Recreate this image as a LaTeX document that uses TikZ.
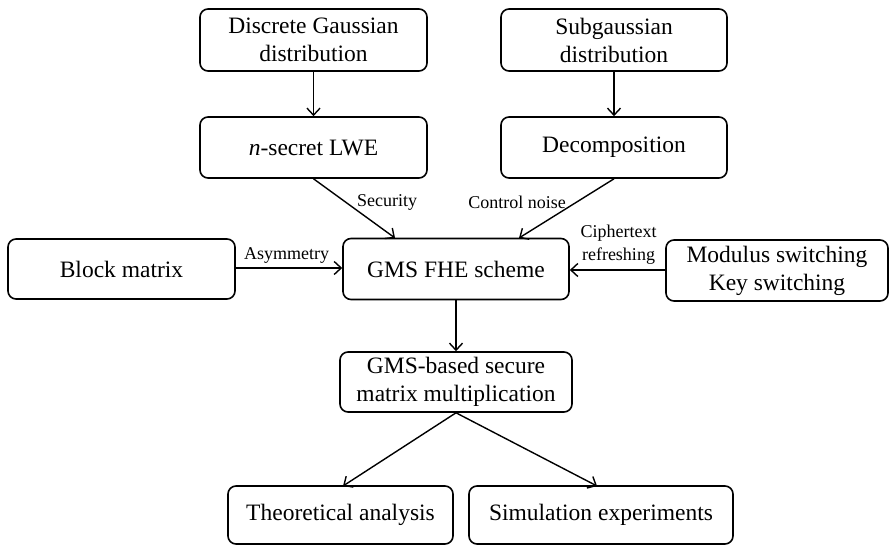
\documentclass[tikz,border=0pt]{standalone}
\usepackage{fontspec}
\setmainfont{Liberation Serif}
\usetikzlibrary{arrows.meta}

\begin{document}
\begin{tikzpicture}[x=1pt,y=-1pt]
	\tikzset{every node/.style={inner sep=0pt}}
	\tikzset{blk/.style={draw,line width=1.6pt,rounded corners=8pt,align=center,
		font=\fontsize{23.5}{28}\selectfont}}
	\tikzset{lbl/.style={align=center,font=\fontsize{18}{24}\selectfont}}
	\tikzset{link/.style={line width=1.4pt,-{Straight Barb[length=7pt,width=13pt,line width=1.4pt]}}}
	%\tikzset{every path/.style={line cap=round}}
	\useasboundingbox (0,0) rectangle (890,545);
	% top row
	\node[blk,minimum width=227pt,minimum height=62pt] (dgauss) at (313.5,40) {Discrete Gaussian\\distribution};
	\node[blk,minimum width=226pt,minimum height=62pt] (subg) at (614,40) {Subgaussian\\distribution};
	\node[blk,minimum width=227pt,minimum height=61pt] (nlwe) at (313.5,147.5) {\textit{n}-secret LWE};
	\node[blk,minimum width=226pt,minimum height=61pt] (decomp) at (614,147.5) {Decomposition};
	% middle row
	\node[blk,minimum width=227pt,minimum height=60pt] (block) at (121.5,269) {Block matrix};
	\node[blk,minimum width=226pt,minimum height=61pt] (fhe) at (456,269) {GMS FHE scheme};
	\node[blk,minimum width=222pt,minimum height=61pt] (modsw) at (777,270.5) {Modulus switching\\Key switching};
	% bottom
	\node[blk,minimum width=232pt,minimum height=60pt] (gmsmm) at (456,382) {GMS-based secure\\matrix multiplication};
	\node[blk,minimum width=225pt,minimum height=58pt] (theory) at (340.5,515) {Theoretical analysis};
	\node[blk,minimum width=264pt,minimum height=58pt] (simexp) at (601,515) {Simulation experiments};
	% connectors
	\coordinate (fhein1) at (395,238);
	\coordinate (fhein2) at (519,238);
	\coordinate (thin) at (343,486);
	\coordinate (simin) at (597,486);
	\draw[link] (dgauss) -- (nlwe);
	\draw[link] (subg) -- (decomp);
	\draw[link] (nlwe.south) -- (fhein1);
	\draw[link] (decomp.south) -- (fhein2);
	\draw[link] (block.east |- 0,268) -- (fhe.west |- 0,268);
	\draw[link] (modsw.west |- 0,270) -- (fhe.east |- 0,270);
	\draw[link] (fhe) -- (gmsmm);
	\draw[link] (gmsmm.south) -- (thin);
	\draw[link] (gmsmm.south) -- (simin);
	% labels
	\node[lbl] (lsec) at (387,202) {Security};
	\node[lbl] (lnoise) at (517,202) {Control noise};
	\node[lbl] (lasym) at (286.5,256) {Asymmetry};
	\node[lbl,font=\fontsize{18}{23}\selectfont] (lrefr) at (618.5,245) {Ciphertext\\refreshing};
\end{tikzpicture}
\end{document}
